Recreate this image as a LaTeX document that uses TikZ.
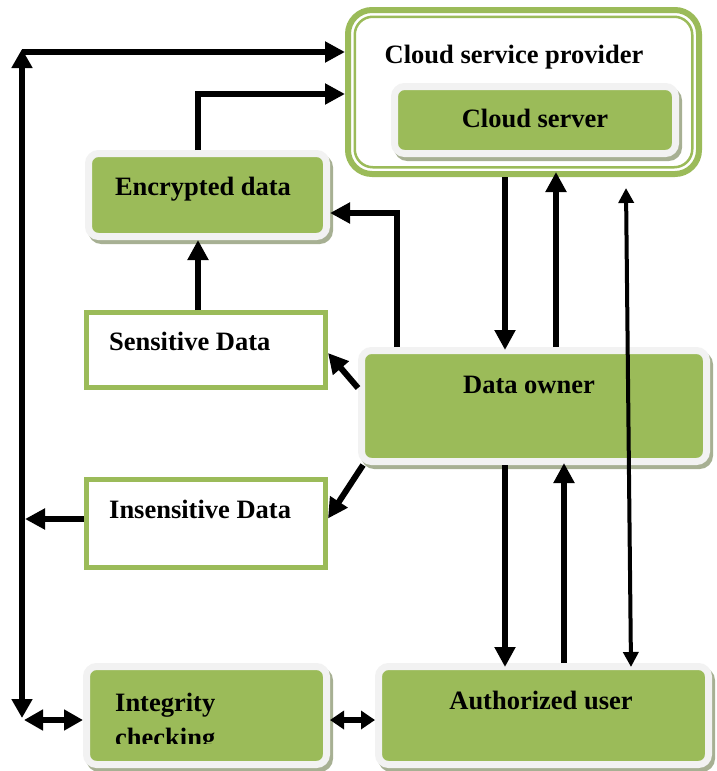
\documentclass[tikz,border=0pt]{standalone}
\usepackage{fontspec}
\setmainfont{Liberation Serif}
\usetikzlibrary{arrows.meta,shadows,calc}
\definecolor{leaf}{HTML}{9BBB59}
\definecolor{rim}{HTML}{F2F2F2}
\definecolor{shade}{HTML}{A7B093}
\tikzset{
  gbox/.style={draw=rim, line width=7pt, fill=leaf, rounded corners=10pt,
    inner sep=0pt, outer sep=3.5pt,
    drop shadow={shadow xshift=3pt, shadow yshift=-4pt, fill=shade,
      draw=shade, line width=7pt, opacity=1}},
  wbox/.style={draw=leaf, line width=5pt, fill=white, inner sep=0pt, outer sep=2.5pt},
  lbl/.style={font=\fontsize{26.5}{30}\selectfont\bfseries, anchor=base, inner sep=0pt},
  arr/.style={line width=6pt, -{Triangle[length=20pt,width=20pt]}},
  arrboth/.style={line width=6pt, {Triangle[length=19pt,width=20pt]}-{Triangle[length=19pt,width=20pt]}},
  arrsmall/.style={line width=6pt, {Triangle[length=14pt,width=18pt]}-{Triangle[length=14pt,width=18pt]}},
  thinboth/.style={line width=4pt, {Triangle[length=15pt,width=15pt]}-{Triangle[length=15pt,width=15pt]}},
}
\begin{document}
\begin{tikzpicture}[x=1pt, y=-1pt]
\useasboundingbox (0,0) rectangle (717,771);

% cloud service provider frame
\node[draw=leaf, line width=6pt, rounded corners=24pt, minimum width=351pt,
  minimum height=164pt, inner sep=0pt, outer sep=3pt] (csp) at (523.5,92) {};
\node[draw=leaf, line width=2.5pt, rounded corners=18pt, minimum width=337.5pt,
  minimum height=150.5pt, inner sep=0pt] (cspin) at (523.5,92) {};
\node[lbl] (tcsp) at (514,63) {Cloud service provider};

% boxes
\node[gbox, minimum width=281pt, minimum height=67pt] (cs) at (535,120) {};
\node[lbl] (tcs) at (535,127) {Cloud server};

\node[gbox, minimum width=238pt, minimum height=83pt] (enc) at (207.5,195) {};
\node[lbl] (tenc) at (203,195) {Encrypted data};

\node[wbox, minimum width=239pt, minimum height=75pt] (sen) at (206,350) {};
\node[lbl, anchor=base west] (tsen) at (109,350) {Sensitive Data};

\node[wbox, minimum width=239pt, minimum height=88pt] (ins) at (206,523.5) {};
\node[lbl, anchor=base west] (tins) at (109,518) {Insensitive Data};

\node[gbox, minimum width=345pt, minimum height=111pt] (do) at (534,406) {};
\node[lbl] (tdo) at (529,393) {Data owner};

\node[gbox, minimum width=240pt, minimum height=98pt] (integ) at (206.5,715.5) {};
\node[lbl, anchor=base west] (tint) at (115,711) {Integrity};
\begin{scope}
  \clip (83,663) rectangle (330,743);
  \node[lbl, anchor=base west] (tchk) at (115,746) {checking};
\end{scope}

\node[gbox, minimum width=330pt, minimum height=98pt] (auth) at (543.5,715.5) {};
\node[lbl] (tauth) at (541,709) {Authorized user};

% left bus
\coordinate (lt) at (22,52);
\coordinate (lb) at (22,720);
\draw[arr] (lt) -- (lt -| csp.west);
\draw[arrboth] ([yshift=3pt]lt) -- ([yshift=2pt]lb);
\draw[arrboth] ([xshift=2pt]lb) -- (lb -| integ.west);

% encrypted data flows
\coordinate (ea) at ([xshift=-9.5pt]enc.north);
\draw[arr] (ea) |- ([yshift=-2pt]csp.west);
\coordinate (eb) at ([xshift=-8pt]sen.north);
\draw[arr] (eb) -- (eb |- enc.south);
\coordinate (oa) at ([xshift=-137pt]do.north);
\draw[arr] (oa) |- ([yshift=-18pt]enc.east);

% data owner to data classes
\draw[arr] ([yshift=18pt]do.west) -- ([yshift=-3pt]sen.east);
\draw[arr] ([xshift=5pt]do.south west) -- ([yshift=5pt]ins.east);
\coordinate (iw) at ([yshift=4.5pt]ins.west);
\draw[arr, shorten >=3pt] (iw) -- (iw -| lt);

% cloud <-> data owner
\coordinate (da) at ([xshift=-29pt]do.north);
\draw[arr, shorten >=-3pt] (da |- csp.south) -- (da);
\coordinate (db) at ([xshift=22pt]do.north);
\draw[arr, shorten >=-5pt] (db) -- (db |- csp.south);

% data owner <-> authorized user
\coordinate (dc) at ([xshift=-29pt]do.south);
\draw[arr, shorten >=-4pt] (dc) -- (dc |- auth.north);
\coordinate (dd) at ([xshift=30pt]do.south);
\draw[arr, shorten >=-2pt] (dd |- auth.north) -- (dd);

% cloud <-> authorized user
\coordinate (ta) at (626,188);
\coordinate (tb) at ([xshift=87.5pt,yshift=-4pt]auth.north);
\draw[thinboth] (ta) -- (tb);

% integrity checking <-> authorized user
\draw[arrsmall] ([yshift=-4.5pt]integ.east) -- ([yshift=-4.5pt]auth.west);
\end{tikzpicture}
\end{document}
